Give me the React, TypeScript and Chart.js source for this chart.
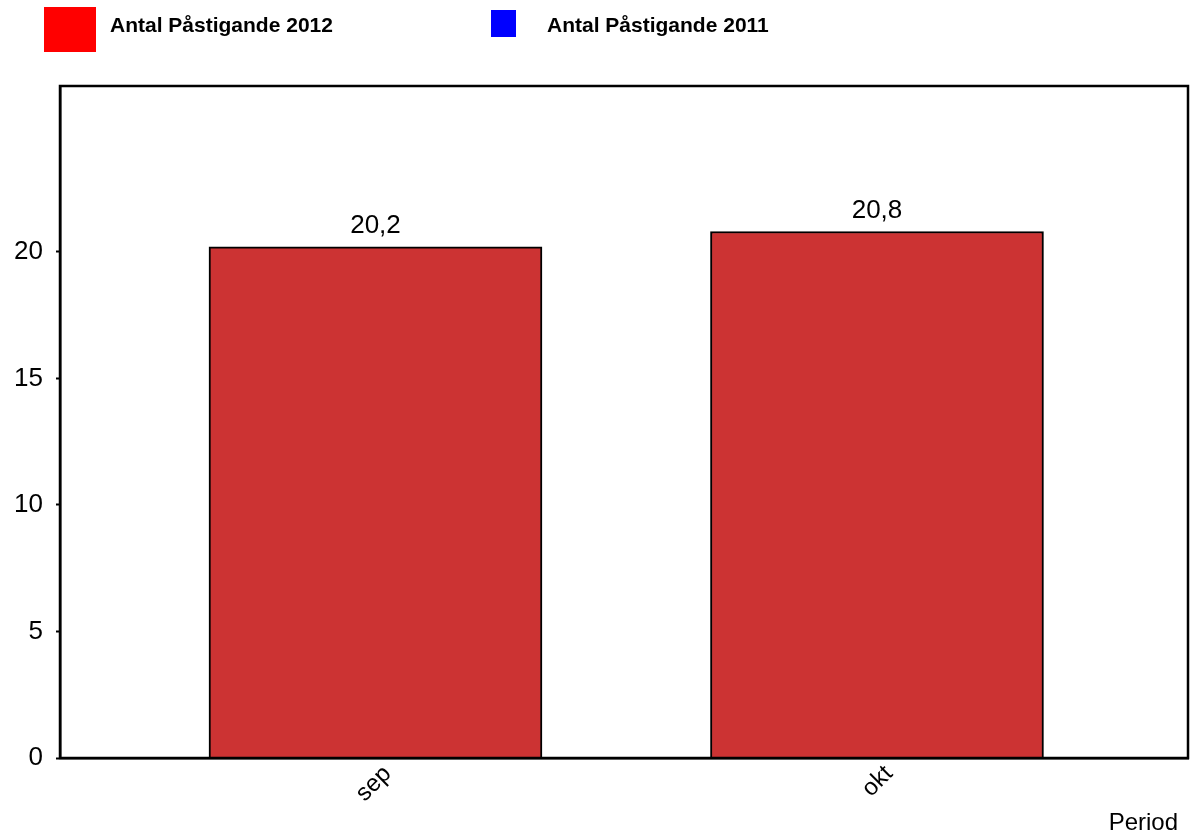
import React, { useEffect, useRef } from "react";
import { Chart, registerables } from "chart.js";

Chart.register(...registerables);

// ---- data ----
const categories: string[] = ["sep", "okt"];
const series2012: number[] = [20.2, 20.8];
const series2011: (number | null)[] = [null, null];
const seriesNames: string[] = ["Antal Påstigande 2012", "Antal Påstigande 2011"];
const yTickValues: number[] = [0, 5, 10, 15, 20];
const xAxisTitle = "Period";

const FONT = "'Liberation Sans', Arial, Helvetica, sans-serif";
const W = 1196;
const H = 836;

const fmt = (v: number) => v.toFixed(1).replace(".", ",");

const framePlugin = {
  id: "plotFrame",
  afterDatasetsDraw(chart: any) {
    const { ctx, chartArea } = chart;
    ctx.save();
    ctx.strokeStyle = "#000";
    ctx.lineWidth = 2.5;
    ctx.strokeRect(chartArea.left, chartArea.top, chartArea.right - chartArea.left, chartArea.bottom - chartArea.top);
    ctx.restore();
  },
};

const valueLabelPlugin = {
  id: "valueLabels",
  afterDatasetsDraw(chart: any) {
    const { ctx } = chart;
    const meta = chart.getDatasetMeta(0);
    ctx.save();
    ctx.font = `26px ${FONT}`;
    ctx.fillStyle = "#000";
    ctx.textAlign = "center";
    ctx.textBaseline = "alphabetic";
    meta.data.forEach((bar: any, i: number) => {
      const v = series2012[i];
      if (v == null) return;
      ctx.fillText(fmt(v), bar.x, bar.y - 14);
    });
    ctx.restore();
  },
};

const axisTitlePlugin = {
  id: "axisTitleText",
  afterDraw(chart: any) {
    const { ctx, chartArea } = chart;
    ctx.save();
    ctx.font = `24px ${FONT}`;
    ctx.fillStyle = "#000";
    ctx.textAlign = "right";
    ctx.textBaseline = "alphabetic";
    ctx.fillText(xAxisTitle, chartArea.right - 10, chart.height - 6);
    ctx.restore();
  },
};

export default function App() {
  const ref = useRef<HTMLCanvasElement | null>(null);

  useEffect(() => {
    if (!ref.current) return;
    const chart = new Chart(ref.current, {
      type: "bar",
      data: {
        datasets: [
          {
            label: seriesNames[0],
            data: categories.map((_, i) => ({ x: i, y: series2012[i] })) as any,
            backgroundColor: "#CC3333",
            borderColor: "#000000",
            borderWidth: 2,
            barThickness: 333,
            grouped: false,
          } as any,
          {
            label: seriesNames[1],
            data: categories.map((_, i) => ({ x: i, y: series2011[i] })) as any,
            backgroundColor: "#0000FF",
            borderColor: "#000000",
            borderWidth: 2,
            barThickness: 333,
            grouped: false,
          } as any,
        ],
      },
      options: {
        responsive: false,
        animation: false,
        layout: { padding: { top: 86, right: 8, left: 0, bottom: 0 } },
        plugins: {
          legend: { display: false },
          tooltip: { enabled: false },
          title: { display: false },
        },
        scales: {
          x: {
            type: "linear",
            offset: false,
            min: -0.6291,
            max: 1.6202,
            grid: { display: false, drawTicks: false, offset: false },
            border: { display: true, color: "#000", width: 2.5 },
            afterBuildTicks: (axis: any) => {
              axis.ticks = categories.map((_, i) => ({ value: i }));
            },
            afterFit: (scale: any) => {
              scale.height = 78;
            },
            ticks: {
              autoSkip: false,
              minRotation: 45,
              maxRotation: 45,
              padding: 2,
              labelOffset: 12,
              color: "#000",
              font: { family: FONT, size: 24 },
              callback: (v: any) => categories[Number(v)] ?? "",
            },
          },
          y: {
            type: "linear",
            min: 0,
            max: 26.55,
            grid: {
              display: true,
              drawOnChartArea: false,
              drawTicks: true,
              tickLength: 4,
              tickColor: "#000",
              tickWidth: 2,
            },
            border: { display: true, color: "#000", width: 2.5 },
            afterBuildTicks: (axis: any) => {
              axis.ticks = yTickValues.map((v) => ({ value: v }));
            },
            afterFit: (scale: any) => {
              scale.width = 60;
            },
            ticks: {
              padding: 13,
              color: "#000",
              font: { family: FONT, size: 26 },
            },
          },
        },
      },
      plugins: [framePlugin, valueLabelPlugin, axisTitlePlugin],
    } as any);
    return () => chart.destroy();
  }, []);

  const legendItems = [
    { name: seriesNames[0], color: "#FF0000", box: { left: 44, top: 7, w: 52, h: 45 }, textLeft: 110 },
    { name: seriesNames[1], color: "#0000FF", box: { left: 491, top: 10, w: 25, h: 27 }, textLeft: 547 },
  ];

  return (
    <div style={{ position: "absolute", left: 0, top: 0, width: W, height: H, background: "#fff", overflow: "hidden" }}>
      <canvas ref={ref} width={W} height={H} style={{ position: "absolute", left: 0, top: 0, width: W, height: H }} />
      {legendItems.map((it) => (
        <React.Fragment key={it.name}>
          <div
            style={{
              position: "absolute",
              left: it.box.left,
              top: it.box.top,
              width: it.box.w,
              height: it.box.h,
              background: it.color,
            }}
          />
          <div
            style={{
              position: "absolute",
              left: it.textLeft,
              top: 14,
              fontFamily: FONT,
              fontWeight: "bold",
              fontSize: 21,
              lineHeight: "21px",
              color: "#000",
              whiteSpace: "nowrap",
            }}
          >
            {it.name}
          </div>
        </React.Fragment>
      ))}
    </div>
  );
}
